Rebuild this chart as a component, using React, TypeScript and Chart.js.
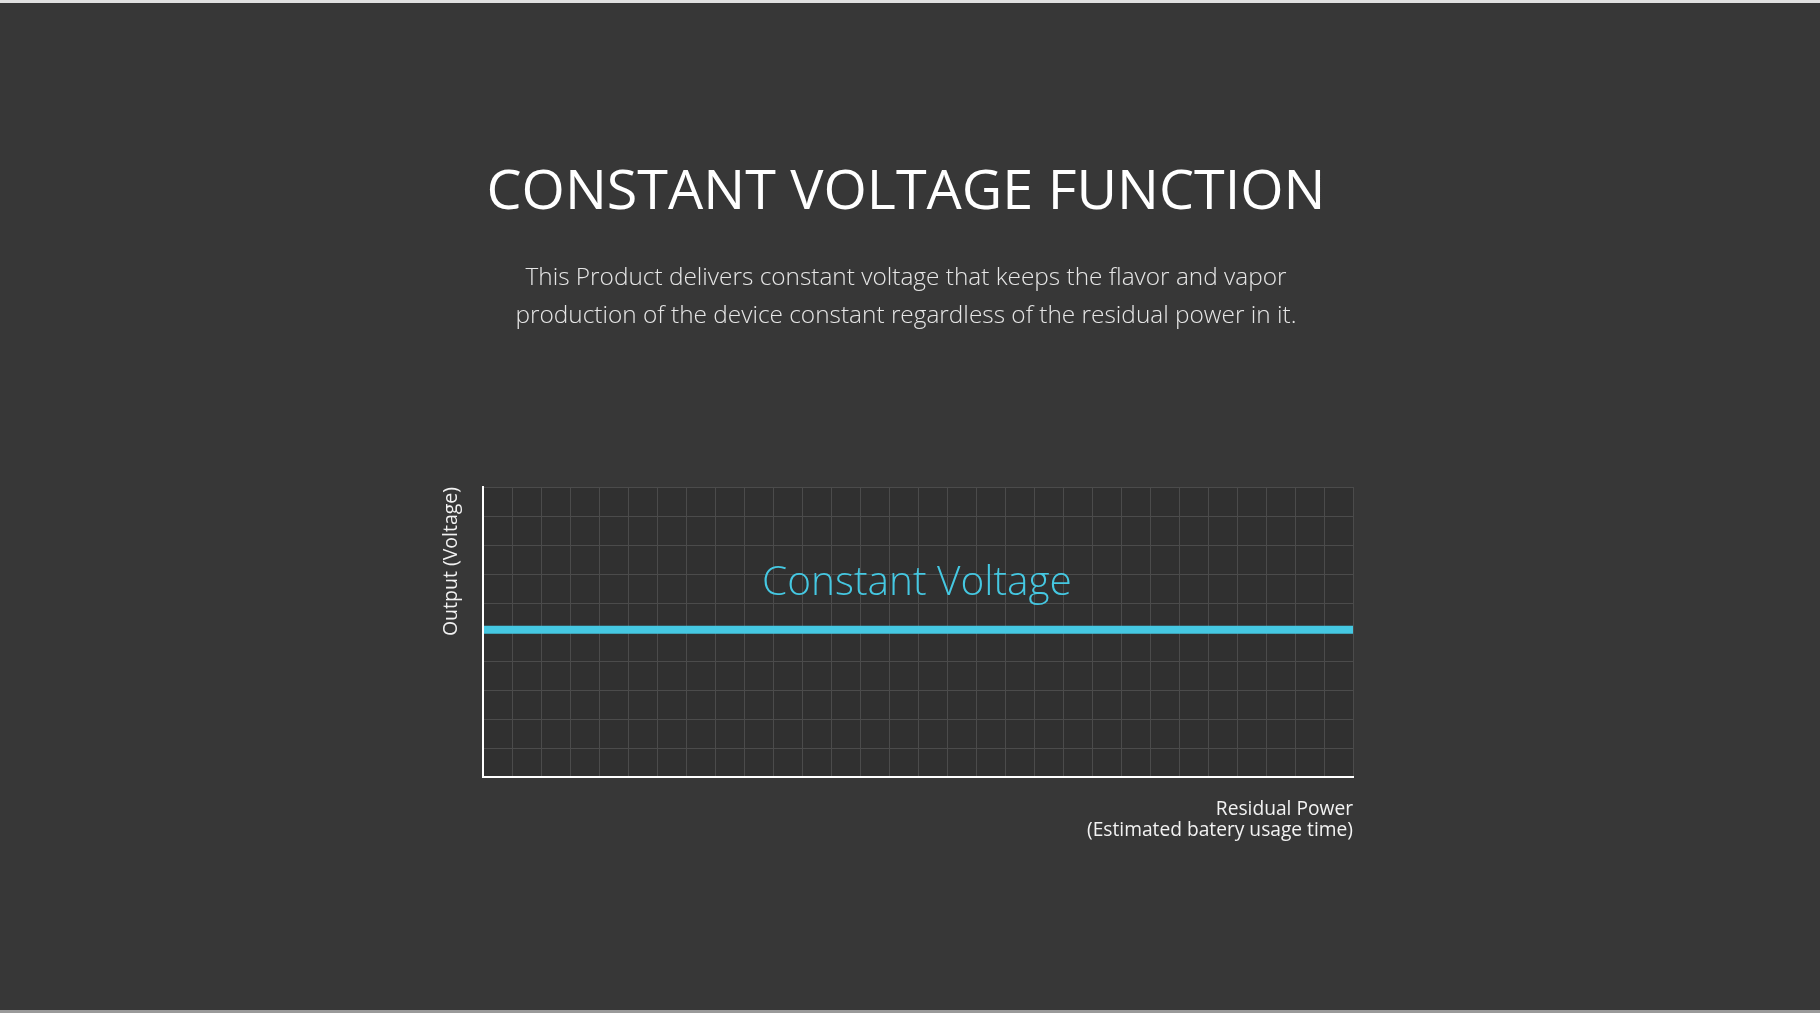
import React, { useEffect, useRef } from "react";
import { Chart, registerables } from "chart.js";

Chart.register(...registerables);

// ---- data ----
const residualPower = [0, 30];
const outputVoltage = [5.08, 5.08];
const xRange = [0, 30];
const yRange = [0, 10];
const titleText = "CONSTANT VOLTAGE FUNCTION";
const subtitleLines = [
  "This Product delivers constant voltage that keeps the flavor and vapor",
  "production of the device constant regardless of the residual power in it.",
];
const seriesLabel = "Constant Voltage";
const yAxisTitle = "Output (Voltage)";
const xAxisTitle = ["Residual Power", "(Estimated batery usage time)"];

// ---- styles ----
const PAGE_BG = "#373737";
const PLOT_BG = "#303030";
const GRID = "#4b4b4b";
const CYAN = "#45c8e2";
const FONT = "'Open Sans', 'Noto Sans', sans-serif";

export default function App() {
  const canvasRef = useRef<HTMLCanvasElement | null>(null);

  useEffect(() => {
    const canvas = canvasRef.current;
    if (!canvas) return;

    const plotBg = {
      id: "plotBg",
      beforeDraw(chart: any) {
        const { ctx, chartArea } = chart;
        ctx.save();
        ctx.fillStyle = PLOT_BG;
        ctx.fillRect(chartArea.left, chartArea.top, chartArea.right - chartArea.left, chartArea.bottom - chartArea.top);
        ctx.restore();
      },
    };

    const seriesText = {
      id: "seriesText",
      afterDatasetsDraw(chart: any) {
        const { ctx, chartArea, scales } = chart;
        const y = scales.y.getPixelForValue(outputVoltage[0]) - 35;
        const x = (chartArea.left + chartArea.right) / 2 - 1;
        ctx.save();
        ctx.font = `300 40.6px ${FONT}`;
        ctx.fillStyle = CYAN;
        ctx.textAlign = "center";
        ctx.textBaseline = "alphabetic";
        ctx.fillText(seriesLabel, x, y);
        ctx.restore();
      },
    };

    const chart = new Chart(canvas, {
      type: "line",
      data: {
        datasets: [
          {
            label: seriesLabel,
            data: residualPower.map((x, i) => ({ x, y: outputVoltage[i] })),
            borderColor: CYAN,
            borderWidth: 8,
            borderCapStyle: "butt",
            pointRadius: 0,
            pointHoverRadius: 0,
            tension: 0,
            fill: false,
          },
        ],
      },
      options: {
        responsive: false,
        animation: false,
        events: [],
        layout: {
          autoPadding: false,
          padding: { left: 440.05, right: 467, top: 487, bottom: 171.5 },
        },
        plugins: {
          legend: { display: false },
          title: { display: false },
          tooltip: { enabled: false },
        },
        scales: {
          x: {
            type: "linear",
            min: xRange[0],
            max: xRange[1],
            ticks: { display: false, stepSize: 1, autoSkip: false, maxTicksLimit: 100 },
            grid: { color: GRID, lineWidth: 1, drawTicks: false },
            border: { display: true, color: "#ffffff", width: 2, z: 2 },
            title: {
              display: true,
              text: xAxisTitle,
              align: "end",
              color: "#f2f2f2",
              font: { family: FONT, size: 19.2, lineHeight: "21px" },
              padding: { top: 22.5, bottom: 0 },
            },
          },
          y: {
            type: "linear",
            min: yRange[0],
            max: yRange[1],
            ticks: { display: false, stepSize: 1, autoSkip: false, maxTicksLimit: 100 },
            grid: { color: GRID, lineWidth: 1, drawTicks: false },
            border: { display: true, color: "#ffffff", width: 2, z: 2 },
            title: {
              display: true,
              text: yAxisTitle,
              align: "end",
              color: "#f2f2f2",
              font: { family: FONT, size: 19.5, lineHeight: "23px" },
              padding: { top: 0, bottom: 19.95 },
            },
          },
        },
      },
      plugins: [plotBg, seriesText],
    } as any);

    return () => chart.destroy();
  }, []);

  return (
    <div
      style={{
        position: "fixed",
        left: 0,
        top: 0,
        width: 1820,
        height: 1013,
        background: PAGE_BG,
        overflow: "hidden",
        fontFamily: FONT,
      }}
    >
      <div style={{ position: "absolute", left: 0, top: 0, width: 1820, height: 3, background: "#e0e0e0" }} />
      <div style={{ position: "absolute", left: 0, top: 1010, width: 1820, height: 3, background: "#9a9a9a" }} />
      <canvas
        ref={canvasRef}
        width={1820}
        height={1013}
        style={{ position: "absolute", left: 0, top: 0, width: 1820, height: 1013 }}
      />
      <div
        style={{
          position: "absolute",
          left: 0,
          width: 1812,
          top: 159.8,
          textAlign: "center",
          color: "#ffffff",
          fontSize: 55.7,
          lineHeight: "55.7px",
          fontWeight: 400,
          whiteSpace: "nowrap",
        }}
      >
        {titleText}
      </div>
      <div
        style={{
          position: "absolute",
          left: 0,
          width: 1812,
          top: 256.5,
          textAlign: "center",
          color: "#e6e6e6",
          fontSize: 24.4,
          lineHeight: "38px",
          fontWeight: 300,
          whiteSpace: "nowrap",
        }}
      >
        {subtitleLines.map((l, i) => (
          <div key={i}>{l}</div>
        ))}
      </div>
    </div>
  );
}
